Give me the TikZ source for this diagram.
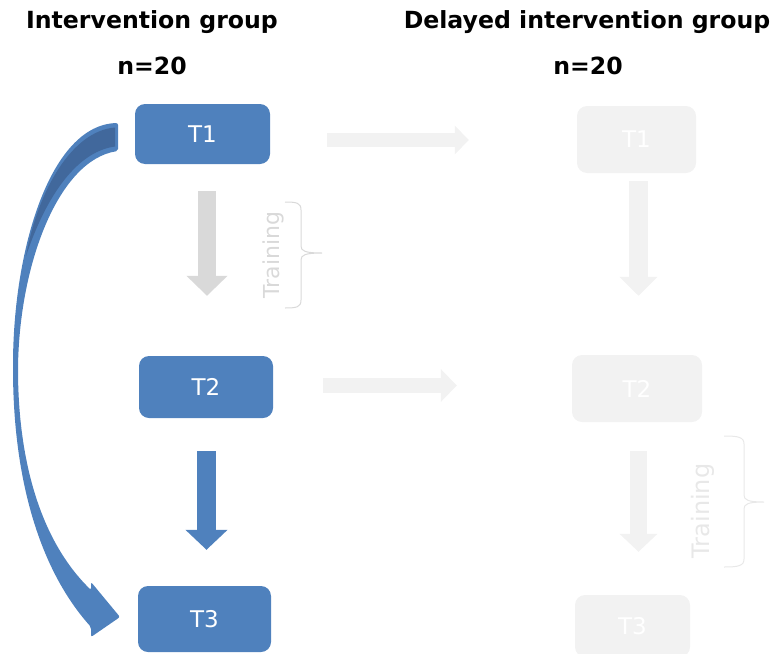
\documentclass[tikz,border=0pt]{standalone}
\usepackage{fontspec}
\setmainfont{DejaVu Sans}
\usetikzlibrary{arrows.meta,calc}
\definecolor{boxblue}{HTML}{4F81BD}
\definecolor{darkblue}{HTML}{41689C}
\definecolor{paleboxgray}{HTML}{F2F2F2}
\definecolor{arrowgray}{HTML}{D9D9D9}
\definecolor{bracegray}{HTML}{D9D9D9}
\definecolor{palebrace}{HTML}{E8E8E8}
\begin{document}
\begin{tikzpicture}[x=1pt,y=-1pt,
  title/.style={font=\bfseries\fontsize{23.6}{28}\selectfont, text=black, inner sep=0pt},
  stagebox/.style={rounded corners=10pt, inner sep=0pt, text=white,
    font=\fontsize{23}{27}\selectfont},
  bluebox/.style={stagebox, fill=boxblue},
  palebox/.style={stagebox, fill=paleboxgray},
  traininglabel/.style={rotate=90, inner sep=0pt}
]
\useasboundingbox (0,0) rectangle (773,653);

% column headings
\node[title] (hL) at (152,22) {Intervention group};
\node[title] (nL) at (152,66) {n=20};
\node[title] (hR) at (587,22) {Delayed intervention group};
\node[title] (nR) at (588,66) {n=20};

% intervention group time points
\node[bluebox, minimum width=135pt, minimum height=60pt] (L1) at (202.5,134) {T1};
\node[bluebox, minimum width=134pt, minimum height=62pt] (L2) at (206,387) {T2};
\node[bluebox, minimum width=133pt, minimum height=66pt] (L3) at (204.5,619) {T3};

% delayed group time points
\node[palebox, minimum width=119pt, minimum height=67pt] (R1) at (636.5,139.5) {T1};
\node[palebox, minimum width=130pt, minimum height=67pt] (R2) at (637,388.5) {T2};
\node[palebox, minimum width=115pt, minimum height=62pt] (R3) at (632.5,626) {T3};

% block arrows down the columns
\draw[arrowgray, line width=18pt, -{Triangle[length=20pt,width=40pt]}]
  ($(L1.south)+(4.5,27)$) -- ($(L2.north)+(1,-60)$);
\draw[boxblue, line width=19pt, -{Triangle[length=20pt,width=41pt]}]
  ($(L2.south)+(0.5,33)$) -- ($(L3.north)+(2,-36)$);
\draw[paleboxgray, line width=19pt, -{Triangle[length=19pt,width=37pt]}]
  ($(R1.south)+(2,8)$) -- ($(R2.north)+(1.5,-59)$);
\draw[paleboxgray, line width=17pt, -{Triangle[length=18pt,width=37pt]}]
  ($(R2.south)+(1.5,29)$) -- ($(R3.north)+(6,-43)$);

% block arrows across to the delayed group
\draw[paleboxgray, line width=14pt, -{Triangle[length=14pt,width=28pt]}]
  ($(L1.east)+(57,6)$) -- ($(R1.west)+(-108,0.5)$);
\draw[paleboxgray, line width=15pt, -{Triangle[length=16pt,width=32pt]}]
  ($(L2.east)+(50,-1.5)$) -- ($(R2.west)+(-115,-3)$);

% curved arrow from T1 to T3 of the intervention group
\fill[boxblue, rounded corners=2pt]
  (118,123) .. controls (50,125) and (13,250) .. (13,367)
  .. controls (13,480) and (40,570) .. (91,627)
  -- (91,637) -- (120,617) -- (91,582) -- (91,590)
  .. controls (40,540) and (18,460) .. (18,367)
  .. controls (20,260) and (60,160) .. (118,151)
  -- cycle;
% shaded inner face of the curved arrow
\fill[darkblue]
  (115,127.5) .. controls (72,131) and (38,190) .. (26,256)
  .. controls (44,202) and (74,152) .. (115,146.5) -- cycle;

% training braces
\draw[bracegray, line width=1pt]
  (285,202) .. controls (297,202) and (301,203) .. (301,210) -- (301,246)
  .. controls (301,251) and (305,253) .. (322,253)
  .. controls (305,253) and (301,255) .. (301,260) -- (301,300)
  .. controls (301,307) and (297,308) .. (285,308);
\node[traininglabel, text=bracegray, font=\fontsize{22}{26}\selectfont] (trL) at (273,255) {Training};

\draw[palebrace, line width=1pt]
  (724,436) .. controls (738,436) and (744,437) .. (744,444) -- (744,495)
  .. controls (744,500) and (748,502) .. (764,502)
  .. controls (748,502) and (744,504) .. (744,509) -- (744,559)
  .. controls (744,566) and (738,567) .. (724,567);
\node[traininglabel, text=palebrace, font=\fontsize{24}{28}\selectfont] (trR) at (703,511) {Training};
\end{tikzpicture}
\end{document}
